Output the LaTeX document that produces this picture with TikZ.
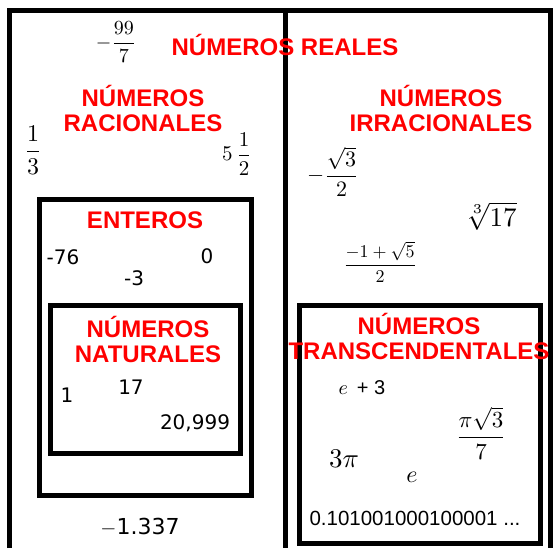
\documentclass[tikz,border=0pt]{standalone}
\usepackage{amsmath}
\usepackage{fontspec}
\setmainfont{Liberation Sans}
\newfontfamily\dejavu{DejaVu Sans}
\begin{document}
\begin{tikzpicture}[x=1pt,y=-1pt,
  frame/.style={line width=5pt},
  setbox/.style={line width=5pt},
  lbl/.style={text=red,font=\fontsize{24}{25}\selectfont\bfseries,align=center,inner sep=0pt},
  num/.style={font=\dejavu\fontsize{20}{22}\selectfont,inner sep=0pt},
  mth/.style={inner sep=0pt,font=\fontsize{10}{12}\selectfont}]
\useasboundingbox (0,0) rectangle (553,548);
\fill[white] (0,0) rectangle (553,548);
% outer frame
\coordinate (tl) at (9.5,10.5);
\coordinate (tr) at (550,10.5);
\coordinate (bl) at (9.5,548);
\coordinate (br) at (550,548);
\coordinate (mt) at (285.5,10.5);
\coordinate (mb) at (285.5,548);
\draw[frame] (bl) -- (tl) -- (tr) -- (br);
\draw[frame] (mt) -- (mb);
% inner boxes
\draw[setbox] (39.5,199.5) rectangle (251,495);
\draw[setbox] (50.5,305) rectangle (240,453);
\draw[setbox] (299.5,305) rectangle (540,543);
% labels
\node[lbl] (reales) at (285,45) {NÚMEROS REALES};
\node[lbl] (racion) at (143,108) {NÚMEROS\\RACIONALES};
\node[lbl] (irrac) at (441,108) {NÚMEROS\\IRRACIONALES};
\node[lbl] (enteros) at (145,220) {ENTEROS};
\node[lbl] (natur) at (148,339) {NÚMEROS\\NATURALES};
\node[lbl] (transc) at (419,336) {NÚMEROS\\TRANSCENDENTALES};
% rational numbers
\node[mth,scale=2.0] (q1) at (116,42) {$-\dfrac{99}{7}$};
\node[mth,scale=2.4] (q2) at (33,150) {$\dfrac{1}{3}$};
\node[mth,scale=2.1] (q3) at (237,154) {$5\,\dfrac{1}{2}$};
\node[mth,font=\dejavu\fontsize{22}{24}\selectfont] (q4) at (140,527) {$-$1.337};
% integers
\node[num] (z1) at (63,257) {-76};
\node[num] (z2) at (207,256) {0};
\node[num] (z3) at (134,278) {-3};
% naturals
\node[num] (n1) at (67,395) {1};
\node[num] (n2) at (131,387) {17};
\node[num] (n3) at (195,423) {20,999};
% irrationals
\node[mth,scale=2.2] (i1) at (333,172) {$-\dfrac{\sqrt{3}}{2}$};
\node[mth,scale=2.7] (i2) at (491,216) {$\sqrt[3]{17}$};
\node[mth,scale=1.8] (i3) at (380,262) {$\dfrac{-1+\sqrt{5}}{2}$};
% transcendentals
\node[mth,scale=2.0] (t1) at (362,388) {$e$\;\,+\;3};
\node[mth,scale=2.3] (t2) at (481,433) {$\dfrac{\pi\sqrt{3}}{7}$};
\node[mth,scale=2.7] (t3) at (344,459) {$3\pi$};
\node[mth,scale=2.4] (t4) at (412,477) {$e$};
\node[mth,font=\fontsize{20.5}{22}\selectfont] (t5) at (415,518) {0.101001000100001 ...};
\end{tikzpicture}
\end{document}
